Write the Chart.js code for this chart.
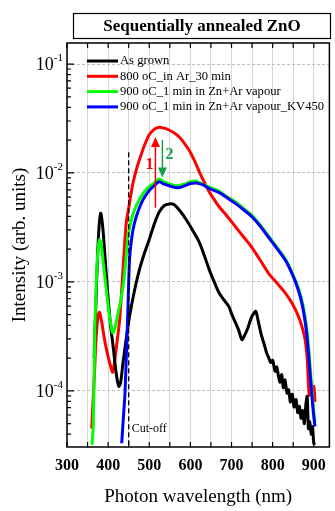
<!DOCTYPE html>
<html>
<head>
<meta charset="utf-8">
<script src="https://cdn.jsdelivr.net/npm/chart.js@4.4.1/dist/chart.umd.min.js"></script>
<style>
  html, body { margin: 0; padding: 0; background: #fff; }
  canvas { display: block; }
</style>
</head>
<body>
<canvas id="plChart" width="335" height="511"></canvas>
<script>
// series labels + colours
const seriesLabels = ['As grown', '800 oC_in Ar_30 min', '900 oC_1 min in Zn+Ar vapour', '900 oC_1 min in Zn+Ar vapour_KV450'];

// As grown
const asGrownNm = [366, 372, 377, 382, 387, 392, 399, 406, 413, 420, 426, 430, 436, 443, 452, 464, 476, 488, 500, 512, 524, 536, 549, 560, 575, 590, 606, 622, 634, 646, 658, 670, 682, 694, 701, 710, 718, 725, 732, 740, 748, 754, 759, 765, 772, 780, 786, 790, 795, 800, 806, 810, 814, 818, 822, 826, 830, 835, 839, 843, 848, 852, 857, 861, 865, 869, 873, 877, 881, 884, 887, 890, 894, 897, 900, 903];
const asGrownI = [2.0e-4, 1.0e-3, 2.82e-3, 4.27e-3, 3.16e-3, 1.78e-3, 7.9e-4, 4.0e-4, 2.4e-4, 1.41e-4, 1.10e-4, 1.17e-4, 1.78e-4, 2.82e-4, 4.8e-4, 8.3e-4, 1.29e-3, 1.82e-3, 2.45e-3, 3.39e-3, 4.37e-3, 5.0e-3, 5.2e-3, 5.13e-3, 4.47e-3, 3.72e-3, 2.95e-3, 2.29e-3, 1.74e-3, 1.29e-3, 1.0e-3, 7.9e-4, 6.8e-4, 5.9e-4, 5.0e-4, 4.2e-4, 3.55e-4, 2.95e-4, 3.24e-4, 3.8e-4, 4.68e-4, 5.13e-4, 5.37e-4, 4.37e-4, 3.31e-4, 2.63e-4, 2.19e-4, 2.04e-4, 1.82e-4, 1.91e-4, 1.51e-4, 1.66e-4, 1.38e-4, 1.20e-4, 1.41e-4, 1.07e-4, 1.26e-4, 9.5e-5, 1.02e-4, 7.9e-5, 9.3e-5, 7.1e-5, 8.3e-5, 6.3e-5, 7.2e-5, 5.6e-5, 6.6e-5, 5.0e-5, 7.6e-5, 8.9e-5, 4.5e-5, 5.2e-5, 4.0e-5, 4.7e-5, 3.3e-5, 3.2e-5];

// 800 oC in Ar
const arNm = [360, 362, 366, 371, 376, 379, 384, 390, 396, 402, 408, 411, 415, 420, 428, 436, 444, 451, 459, 468, 476, 488, 500, 512, 524, 536, 548, 560, 573, 585, 597, 610, 622, 634, 646, 658, 670, 690, 711, 730, 749, 770, 790, 810, 831, 848, 863, 872, 879, 884, 887, 889, 893, 900, 903];
const arI = [4.5e-5, 6.3e-5, 1.26e-4, 3.16e-4, 5.0e-4, 5.25e-4, 4.37e-4, 3.16e-4, 2.4e-4, 1.91e-4, 1.58e-4, 1.48e-4, 1.78e-4, 2.51e-4, 4.47e-4, 1.26e-3, 3.47e-3, 5.0e-3, 7.6e-3, 0.0105, 0.0132, 0.0178, 0.0224, 0.0251, 0.0263, 0.0258, 0.0248, 0.0234, 0.0214, 0.0188, 0.0162, 0.0130, 0.0102, 8.2e-3, 6.7e-3, 5.7e-3, 4.9e-3, 3.98e-3, 3.16e-3, 2.57e-3, 2.09e-3, 1.58e-3, 1.20e-3, 9.8e-4, 7.9e-4, 6.3e-4, 4.8e-4, 3.8e-4, 2.95e-4, 2.0e-4, 1.17e-4, 9.1e-5, 1.05e-4, 1.10e-4, 7.9e-5];

// 900 oC in Zn+Ar vapour
const znNm = [361, 364, 368, 373, 377, 379, 383, 389, 395, 401, 406, 411, 416, 422, 429, 436, 442, 448, 456, 464, 478, 493, 512, 524, 536, 550, 568, 585, 600, 614, 630, 646, 670, 690, 711, 730, 749, 770, 790, 810, 831, 848, 863, 873, 882, 888, 894, 899, 903];
const znI = [3.2e-5, 5.0e-5, 4.0e-4, 1.41e-3, 2.24e-3, 2.45e-3, 2.24e-3, 1.41e-3, 8.9e-4, 5.6e-4, 4.2e-4, 3.4e-4, 3.7e-4, 4.7e-4, 6.3e-4, 8.9e-4, 1.41e-3, 2.57e-3, 3.63e-3, 4.57e-3, 5.9e-3, 7.1e-3, 8.1e-3, 8.8e-3, 8.3e-3, 7.9e-3, 7.6e-3, 7.9e-3, 8.3e-3, 8.4e-3, 7.9e-3, 7.4e-3, 6.8e-3, 6.0e-3, 5.4e-3, 4.7e-3, 4.1e-3, 3.31e-3, 2.63e-3, 2.09e-3, 1.62e-3, 1.20e-3, 8.7e-4, 6.3e-4, 4.0e-4, 2.4e-4, 1.20e-4, 7.1e-5, 5.2e-5];

// 900 oC in Zn+Ar vapour, KV450 filter
const kvNm = [433, 437, 441, 445, 448, 452, 458, 464, 474, 484, 496, 508, 524, 536, 550, 568, 585, 600, 614, 630, 646, 670, 690, 711, 730, 749, 770, 790, 810, 831, 848, 863, 873, 882, 888, 894, 899, 903];
const kvI = [3.3e-5, 5.6e-5, 9.5e-5, 2.51e-4, 5.5e-4, 1.58e-3, 2.63e-3, 3.47e-3, 4.57e-3, 5.6e-3, 6.6e-3, 7.4e-3, 8.3e-3, 7.9e-3, 7.6e-3, 7.3e-3, 7.6e-3, 8.0e-3, 8.1e-3, 7.8e-3, 7.2e-3, 6.6e-3, 5.9e-3, 5.2e-3, 4.57e-3, 3.98e-3, 3.24e-3, 2.57e-3, 2.04e-3, 1.58e-3, 1.17e-3, 8.3e-4, 5.9e-4, 3.55e-4, 2.0e-4, 1.05e-4, 6.3e-5, 4.7e-5];

const xTicks = [300, 350, 400, 450, 500, 550, 600, 650, 700, 750, 800, 850, 900];
const yDecades = [1e-4, 1e-3, 1e-2, 1e-1];
const yDecadeLabels = ['-4', '-3', '-2', '-1'];

// arrows: [nm, from, to]
const arrowUp = [515, 4.8e-3, 0.0214];
const arrowDown = [532, 0.020, 9.1e-3];
const cutOffNm = 450;
const cutOffTop = 0.0155;

const serif = "'Liberation Serif', 'Times New Roman', serif";
const colors = ['#000000', '#ff0000', '#00ff00', '#0000ff'];

function pts(xs, ys) {
    return xs.map((v, i) => ({ x: v, y: ys[i] }));
}

function drawArrow(ctx, xs, ys, spec, color) {
    const px = xs.getPixelForValue(spec[0]);
    const p0 = ys.getPixelForValue(spec[1]);
    const p1 = ys.getPixelForValue(spec[2]);
    const dir = p1 < p0 ? 1 : -1;
    ctx.strokeStyle = color;
    ctx.fillStyle = color;
    ctx.lineWidth = 1.5;
    ctx.beginPath();
    ctx.moveTo(px, p0);
    ctx.lineTo(px, p1 + dir * 9);
    ctx.stroke();
    ctx.beginPath();
    ctx.moveTo(px, p1);
    ctx.lineTo(px - 4.5, p1 + dir * 10);
    ctx.lineTo(px + 4.5, p1 + dir * 10);
    ctx.closePath();
    ctx.fill();
}

const decorations = {
    id: 'decorations',
    beforeDraw(chart) {
        const ctx = chart.ctx;
        ctx.save();
        ctx.fillStyle = '#fff';
        ctx.fillRect(0, 0, chart.width, chart.height);
        ctx.restore();
    },
    afterDatasetsDraw(chart) {
        const { ctx, chartArea: a, scales: { x, y } } = chart;
        ctx.save();

        // cut-off line
        const cx = x.getPixelForValue(cutOffNm);
        ctx.strokeStyle = '#000';
        ctx.lineWidth = 1.3;
        ctx.setLineDash([5, 3]);
        ctx.beginPath();
        ctx.moveTo(cx, y.getPixelForValue(cutOffTop));
        ctx.lineTo(cx, a.bottom);
        ctx.stroke();
        ctx.setLineDash([]);
        ctx.fillStyle = '#000';
        ctx.font = '12px ' + serif;
        ctx.textAlign = 'left';
        ctx.textBaseline = 'middle';
        ctx.fillText('Cut-off', cx + 3, a.bottom - 18);

        // arrows 1 and 2
        drawArrow(ctx, x, y, arrowUp, '#ff0000');
        drawArrow(ctx, x, y, arrowDown, '#15a04a');
        ctx.font = 'bold 16px ' + serif;
        ctx.textAlign = 'center';
        ctx.fillStyle = '#ff0000';
        ctx.fillText('1', x.getPixelForValue(arrowUp[0]) - 6, y.getPixelForValue(0.0118));
        ctx.fillStyle = '#15a04a';
        ctx.fillText('2', x.getPixelForValue(arrowDown[0]) + 7, y.getPixelForValue(0.0148));
        ctx.restore();
    },
    afterDraw(chart) {
        const { ctx, chartArea: a, scales: { x, y } } = chart;
        ctx.save();

        // frame
        ctx.strokeStyle = '#000';
        ctx.lineWidth = 1.5;
        ctx.strokeRect(a.left, a.top, a.right - a.left, a.bottom - a.top);

        // inward ticks, top and bottom
        ctx.lineWidth = 1.2;
        ctx.beginPath();
        xTicks.forEach(v => {
            const px = x.getPixelForValue(v);
            ctx.moveTo(px, a.bottom);
            ctx.lineTo(px, a.bottom - 5);
            ctx.moveTo(px, a.top);
            ctx.lineTo(px, a.top + 5);
        });
        // left ticks, decades long, minors short
        for (let e = -5; e <= 0; e++) {
            for (let m = 1; m <= 9; m++) {
                const v = m * Math.pow(10, e);
                if (v < y.min || v > y.max) continue;
                const py = y.getPixelForValue(v);
                ctx.moveTo(a.left, py);
                ctx.lineTo(a.left + (m === 1 ? 7 : 4), py);
            }
        }
        ctx.stroke();

        // y tick labels 10^n
        ctx.fillStyle = '#000';
        ctx.textBaseline = 'middle';
        yDecades.forEach((v, i) => {
            const py = y.getPixelForValue(v);
            ctx.font = '11px ' + serif;
            ctx.textAlign = 'left';
            const sup = yDecadeLabels[i];
            const sw = ctx.measureText(sup).width;
            const right = a.left - 4;
            ctx.fillText(sup, right - sw, py - 6);
            ctx.font = '18px ' + serif;
            ctx.textAlign = 'right';
            ctx.fillText('10', right - sw, py + 1);
        });

        // legend
        ctx.font = '12.6px ' + serif;
        ctx.textAlign = 'left';
        chart.data.datasets.forEach((ds, i) => {
            const ly = a.top + 18 + i * 15.3;
            ctx.strokeStyle = ds.borderColor;
            ctx.lineWidth = 3;
            ctx.beginPath();
            ctx.moveTo(a.left + 20, ly);
            ctx.lineTo(a.left + 51, ly);
            ctx.stroke();
            ctx.fillStyle = '#000';
            ctx.fillText(ds.label, a.left + 53, ly);
        });

        // title box
        ctx.strokeStyle = '#000';
        ctx.lineWidth = 1.2;
        ctx.strokeRect(73.5, 13.5, 257, 25);
        ctx.font = 'bold 17px ' + serif;
        ctx.textAlign = 'center';
        ctx.fillText('Sequentially annealed ZnO', 202, 26.5);
        ctx.restore();
    }
};

const ctx = document.getElementById('plChart').getContext('2d');

new Chart(ctx, {
    type: 'line',
    data: {
        datasets: [
            { label: seriesLabels[0], data: pts(asGrownNm, asGrownI), borderColor: colors[0], order: 2 },
            { label: seriesLabels[1], data: pts(arNm, arI), borderColor: colors[1], order: 3 },
            { label: seriesLabels[2], data: pts(znNm, znI), borderColor: colors[2], order: 1 },
            { label: seriesLabels[3], data: pts(kvNm, kvI), borderColor: colors[3], order: 0 }
        ]
    },
    options: {
        responsive: false,
        animation: false,
        devicePixelRatio: 1,
        layout: { padding: { top: 43, right: 4, left: 0, bottom: 0 } },
        elements: {
            point: { radius: 0 },
            line: { borderWidth: 3, tension: 0.25, fill: false }
        },
        plugins: {
            legend: { display: false },
            tooltip: { enabled: false }
        },
        scales: {
            x: {
                type: 'linear',
                min: 300,
                max: 938,
                afterBuildTicks: s => { s.ticks = xTicks.map(v => ({ value: v })); },
                afterFit: s => { s.height = 64; },
                grid: { color: '#d6d6d6', lineWidth: 1, drawTicks: false },
                border: { display: false },
                ticks: {
                    padding: 9,
                    color: '#000',
                    font: { family: serif, size: 16, weight: 'bold' },
                    maxRotation: 0,
                    autoSkip: false,
                    callback: v => (v % 100 === 0 ? v : '')
                },
                title: {
                    display: true,
                    text: 'Photon wavelength (nm)',
                    color: '#000',
                    font: { family: serif, size: 19 },
                    padding: { top: 0, bottom: 3 }
                }
            },
            y: {
                type: 'logarithmic',
                min: 3.05e-5,
                max: 0.156,
                afterBuildTicks: s => { s.ticks = yDecades.map(v => ({ value: v })); },
                afterFit: s => { s.width = 67; },
                grid: { color: '#bdbdbd', lineWidth: 1, drawTicks: false },
                border: { display: false, dash: [3, 2] },
                ticks: { display: false },
                title: {
                    display: true,
                    text: 'Intensity (arb. units)',
                    color: '#000',
                    font: { family: serif, size: 19 },
                    padding: { top: 9, bottom: 0 }
                }
            }
        }
    },
    plugins: [decorations]
});
</script>
</body>
</html>
